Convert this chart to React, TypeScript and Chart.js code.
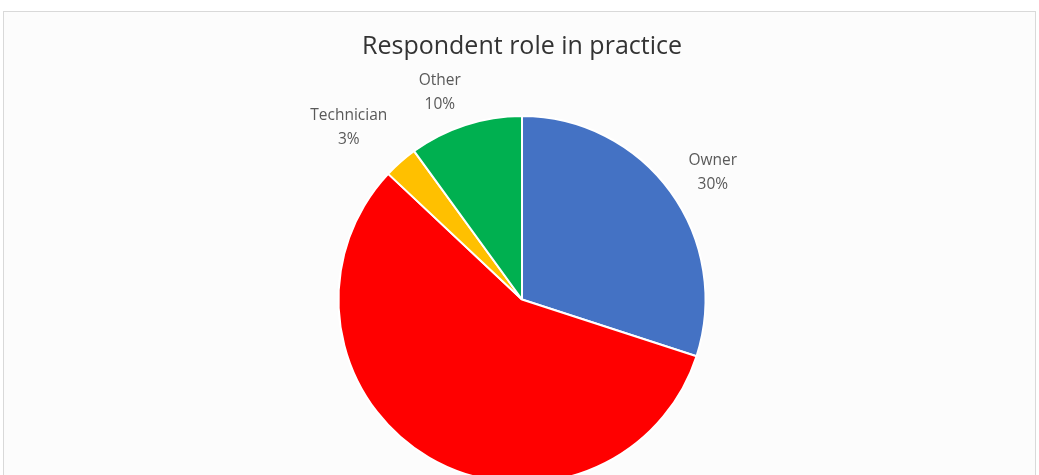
import React, { useEffect, useRef } from "react";
import { Chart, registerables } from "chart.js";

Chart.register(...registerables);

const TITLE = "Respondent role in practice";
const categories = ["Owner", "Veterinarian", "Technician", "Other"];
const values = [30, 57, 3, 10];
const colors = ["#4472C4", "#FF0000", "#FFC000", "#00B050"];

const LABEL_FONT = "15.5px 'Open Sans', sans-serif";
const TITLE_FONT = "25px 'Open Sans', sans-serif";

const labelPlugin = {
  id: "pieLabels",
  afterDraw(chart: any) {
    const ctx = chart.ctx as CanvasRenderingContext2D;
    const meta = chart.getDatasetMeta(0);
    const total = values.reduce((a, b) => a + b, 0);
    ctx.save();
    // title
    ctx.font = TITLE_FONT;
    ctx.fillStyle = "#333333";
    ctx.textAlign = "center";
    ctx.textBaseline = "alphabetic";
    const ca = chart.chartArea;
    ctx.fillText(TITLE, (ca.left + ca.right) / 2, 54);
    // data labels
    ctx.font = LABEL_FONT;
    ctx.fillStyle = "#595959";
    ctx.textBaseline = "middle";
    const lineH = 24;
    const gap = 17;
    const shiftY = 12;
    const leftShift = 11;
    meta.data.forEach((arc: any, i: number) => {
      const p = arc.getProps(["x", "y", "startAngle", "endAngle", "outerRadius"], true);
      const mid = (p.startAngle + p.endAngle) / 2;
      const dx = Math.cos(mid);
      const dy = Math.sin(mid);
      const l1 = categories[i];
      const l2 = Math.round((values[i] / total) * 100) + "%";
      const w = Math.max(ctx.measureText(l1).width, ctx.measureText(l2).width) + 4;
      const h = lineH * 2;
      const ext = Math.abs(dx) * w / 2 + Math.abs(dy) * h / 2;
      const d = p.outerRadius + gap + ext;
      const cx = p.x + dx * d - (dx < 0 ? leftShift : 0);
      const cy = p.y + dy * d + shiftY;
      ctx.fillText(l1, cx, cy - lineH / 2);
      ctx.fillText(l2, cx, cy + lineH / 2);
    });
    ctx.restore();
  },
};

export default function App() {
  const ref = useRef<HTMLCanvasElement | null>(null);
  useEffect(() => {
    if (!ref.current) return;
    const chart = new Chart(ref.current, {
      type: "pie",
      data: {
        labels: categories,
        datasets: [
          {
            data: values,
            backgroundColor: colors,
            borderColor: "#ffffff",
            borderWidth: 2,
          },
        ],
      },
      options: {
        responsive: false,
        animation: false,
        layout: { padding: { left: 337, right: 332, top: 115, bottom: 36 } },
        plugins: {
          legend: { display: false },
          title: { display: false },
          tooltip: { enabled: false },
        },
      },
      plugins: [labelPlugin],
    });
    return () => chart.destroy();
  }, []);

  return (
    <div
      style={{
        position: "fixed",
        left: 0,
        top: 0,
        width: 1039,
        height: 475,
        overflow: "hidden",
        background: "#ffffff",
      }}
    >
      <div
        style={{
          position: "absolute",
          left: 3,
          top: 11,
          width: 1031,
          height: 520,
          border: "1px solid #d9d9d9",
          background: "#fcfcfc",
        }}
      />
      <canvas
        ref={ref}
        width={1039}
        height={520}
        style={{ position: "absolute", left: 0, top: 0, width: 1039, height: 520 }}
      />
    </div>
  );
}
